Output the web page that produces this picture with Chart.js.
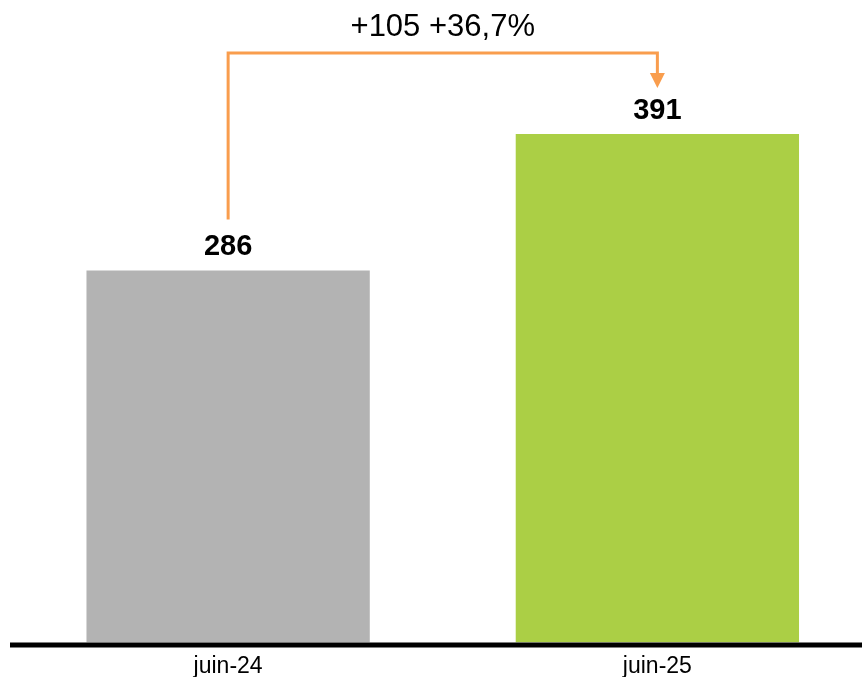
<!DOCTYPE html>
<html>
<head>
    <meta charset="utf-8">
    <title>juin-24 vs juin-25</title>
    <script src="https://cdn.jsdelivr.net/npm/chart.js@4.4.0/dist/chart.umd.min.js"></script>
    <style>
        html, body {
            margin: 0;
            padding: 0;
            overflow: hidden;
            background: #ffffff;
        }
    </style>
</head>
<body>
<canvas id="myChart" width="872" height="690"></canvas>
<script>

// data
var labels = ['juin-24', 'juin-25'];
var values = [286, 391];
var barColors = ['#B3B3B3', '#ABCF45'];

var orange = '#F99D4D';
var fontName = '"Liberation Sans", Arial, sans-serif';

function fmt_pct(x)
{
    return x.toFixed(1).replace('.', ',');
}

// bold numbers above each bar
var valueLabels = {
    id: 'valueLabels',
    afterDatasetsDraw(chart) {
        var ctx = chart.ctx;
        var meta = chart.getDatasetMeta(0);
        ctx.save();
        ctx.font = 'bold 29px ' + fontName;
        ctx.fillStyle = '#000000';
        ctx.textAlign = 'center';
        ctx.textBaseline = 'alphabetic';
        meta.data.forEach(function (bar, i) {
            ctx.fillText(values[i], bar.x, bar.y - 15);
        });
        ctx.restore();
    }
};

// thick black base line + the orange difference arrow
var decorations = {
    id: 'decorations',
    afterDatasetsDraw(chart) {
        var ctx = chart.ctx;
        var meta = chart.getDatasetMeta(0);
        var area = chart.chartArea;
        var b0 = meta.data[0];
        var b1 = meta.data[1];

        ctx.save();
        ctx.strokeStyle = '#000000';
        ctx.lineWidth = 5;
        ctx.beginPath();
        ctx.moveTo(10, area.bottom + 2.5);
        ctx.lineTo(chart.width, area.bottom + 2.5);
        ctx.stroke();

        var startY = b0.y - 51;
        var topY = b1.y - 81;
        var tipY = b1.y - 46;
        ctx.strokeStyle = orange;
        ctx.lineWidth = 3;
        ctx.beginPath();
        ctx.moveTo(b0.x, startY);
        ctx.lineTo(b0.x, topY);
        ctx.lineTo(b1.x, topY);
        ctx.lineTo(b1.x, tipY - 14);
        ctx.stroke();

        ctx.fillStyle = orange;
        ctx.beginPath();
        ctx.moveTo(b1.x - 7.5, tipY - 15);
        ctx.lineTo(b1.x + 7.5, tipY - 15);
        ctx.lineTo(b1.x, tipY);
        ctx.closePath();
        ctx.fill();

        var diff = values[1] - values[0];
        var pct = diff / values[0] * 100;
        ctx.fillStyle = '#000000';
        ctx.font = '31px ' + fontName;
        ctx.textAlign = 'center';
        ctx.textBaseline = 'alphabetic';
        ctx.fillText('+' + diff + ' +' + fmt_pct(pct) + '%', (b0.x + b1.x) / 2, topY - 17);
        ctx.restore();
    }
};

const ctx = document.getElementById('myChart').getContext('2d');

const config = {
    type: 'bar',
    data: {
        labels: labels,
        datasets: [{
            data: values,
            backgroundColor: barColors,
            borderWidth: 0,
            categoryPercentage: 1.0,
            barPercentage: 0.66
        }]
    },
    options: {
        responsive: false,
        animation: false,
        layout: {
            padding: { left: 13.5, right: 0, top: 0, bottom: 0 }
        },
        plugins: {
            legend: { display: false },
            tooltip: { enabled: false }
        },
        scales: {
            x: {
                grid: { display: false, drawTicks: false },
                border: { display: false },
                ticks: {
                    color: '#000000',
                    padding: 10,
                    font: { family: fontName, size: 23 }
                }
            },
            y: {
                display: false,
                min: 0,
                max: 494
            }
        }
    },
    plugins: [valueLabels, decorations]
};

var myChart = new Chart(ctx, config);

</script>
</body>
</html>
